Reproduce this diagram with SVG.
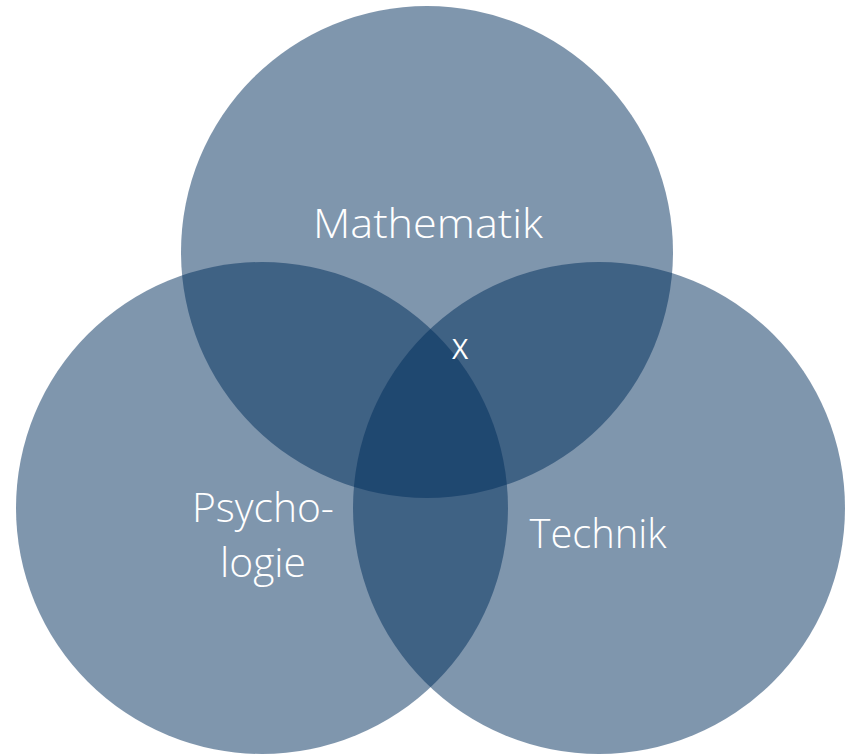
<svg xmlns="http://www.w3.org/2000/svg" width="855" height="754" viewBox="0 0 855 754">
<style>
.c{fill:#002d5b;fill-opacity:0.5}
.t{fill:#ffffff;font-family:"Open Sans","Liberation Sans",sans-serif;font-weight:300;font-size:41px;text-anchor:middle}
.x{fill:#ffffff;font-family:"Open Sans","Liberation Sans",sans-serif;font-weight:400;font-size:28px;text-anchor:middle}
</style>
<rect width="855" height="754" fill="#ffffff"/>
<g id="mathematik">
<circle class="c" cx="427" cy="252" r="246"/>
<text class="t" x="428" y="238" textLength="230" lengthAdjust="spacingAndGlyphs">Mathematik</text>
</g>
<g id="psychologie">
<circle class="c" cx="262" cy="508" r="246"/>
<text class="t" x="263" y="522" textLength="142" lengthAdjust="spacingAndGlyphs">Psycho-</text>
<text class="t" x="263" y="577" textLength="86" lengthAdjust="spacingAndGlyphs">logie</text>
</g>
<g id="technik">
<circle class="c" cx="599" cy="508" r="246"/>
<text class="t" x="598" y="548" textLength="137" lengthAdjust="spacingAndGlyphs">Technik</text>
</g>
<g id="center">
<text class="x" x="460" y="359">X</text>
</g>
<g id="connectors"/>
</svg>
